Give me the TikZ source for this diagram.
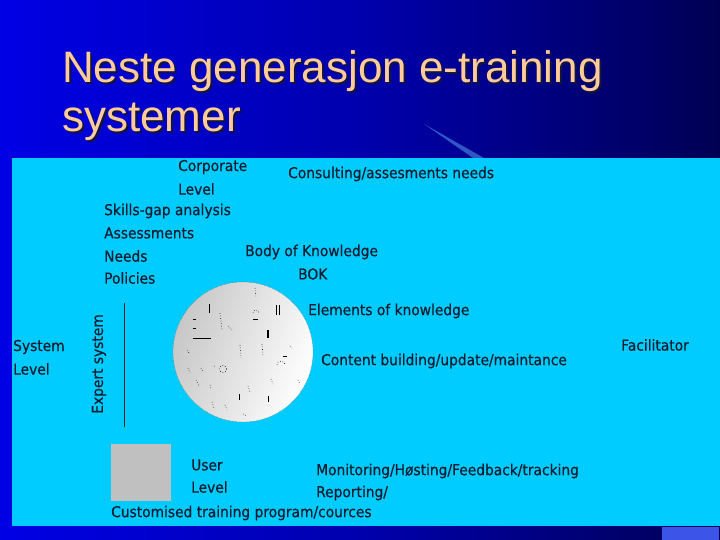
\documentclass[tikz,border=0pt]{standalone}
\usepackage{fontspec}
\newfontfamily\tfont{Liberation Sans}
\newfontfamily\cfont[FakeStretch=0.92,FakeBold=0.5]{DejaVu Sans}
\definecolor{panel}{RGB}{0,204,255}
\definecolor{titleor}{RGB}{255,204,153}
\definecolor{tshadow}{RGB}{20,20,60}
\definecolor{txt}{RGB}{16,28,48}
\definecolor{sq}{RGB}{192,192,192}
\definecolor{corner}{RGB}{60,84,232}
\newcommand{\shadowtext}[1]{\makebox[0pt][l]{\hspace{2pt}\raisebox{-2pt}{\color{tshadow}#1}}#1}
\pgfdeclarehorizontalshading{bgshade}{100bp}{rgb(0bp)=(0,0,0.98); rgb(25bp)=(0,0,0.9); rgb(50bp)=(0,0,0.68); rgb(70bp)=(0,0,0.4); rgb(88bp)=(0,0,0.12); rgb(100bp)=(0,0,0)}
\tikzset{
  lbl/.style={font=\cfont\fontsize{15}{18}\selectfont, text=txt, anchor=west, inner sep=0pt},
  ttl/.style={font=\tfont\fontsize{44}{50}\selectfont, text=titleor, anchor=base west, inner sep=0pt},
  tickline/.style={line width=0.6pt, draw=black},
  dotline/.style={line width=0.6pt, draw=black, dotted}
}
\begin{document}
\begin{tikzpicture}[x=1pt,y=-1pt]
\useasboundingbox (0,0) rectangle (720,540);
% background
\shade[shading=bgshade] (0,0) rectangle (720,540);
% streak
\fill[blue!40!cyan!60!white, opacity=0.45] (424,124) -- (473,158) -- (484,158) -- cycle;
% title with shadow
\node[ttl] (t1) at (62,83) {\shadowtext{Neste generasjon e-training}};
\node[ttl] (t2) at (62,132) {\shadowtext{systemer}};
% panel
\fill[panel] (12,158) rectangle (720,526);
\fill[corner] (662,527) rectangle (719,540);
% labels
\node[lbl] (corp) at (178,167) {Corporate};
\node[lbl] (corplev) at (178,189) {Level};
\node[lbl] (skills) at (104,211) {Skills-gap analysis};
\node[lbl] (assess) at (104,233) {Assessments};
\node[lbl] (needs) at (104,256) {Needs};
\node[lbl] (pol) at (104,278) {Policies};
\node[lbl] (cons) at (288,174) {Consulting/assesments needs};
\node[lbl] (body) at (245,252) {Body of Knowledge};
\node[lbl] (bok) at (298,274) {BOK};
\node[lbl] (elem) at (308,311) {Elements of knowledge};
\node[lbl] (cont) at (321,361) {Content building/update/maintance};
\node[lbl] (fac) at (621,345) {Facilitator};
\node[lbl] (sys) at (13,347) {System};
\node[lbl] (syslev) at (13,369) {Level};
\node[lbl, anchor=center, rotate=90] (expert) at (99,364) {Expert system};
\draw[line width=1pt, black!85] (124,303) -- (124,427);
% body of knowledge sphere
\shade[left color=black!22, right color=white, shading angle=70] (243,352) circle (70);
\draw[black!60, line width=0.4pt, densely dotted] (243,352) circle (70);
\draw[tickline] (209,304) -- (209,313);
\draw[tickline] (276,305) -- (276,315) (279,305) -- (279,315);
\draw[tickline] (193,338) -- (211,338);
\draw[tickline] (193,319) -- (196,319) (193,328) -- (196,328);
\draw[line width=1.4pt] (268,330) -- (268,338);
\draw[tickline] (283,356) -- (287,356);
\draw[tickline] (239,394) -- (239,400);
\draw[tickline] (268,396) -- (268,402);
\draw[tickline] (253,319) -- (258,319);
\draw[dotline] (223,369) circle (3.5);
\draw[dotline] (253,313) arc (180:360:3);
\draw[dotline] (277,365) arc (180:360:4);
\draw[dotline] (220,313) -- (222,330);
\draw[dotline] (228,326) -- (232,330);
\draw[dotline] (240,345) -- (241,358);
\draw[dotline] (262,344) -- (263,356);
\draw[dotline] (201,368) -- (203,372);
\draw[dotline] (187,350) -- (189,353);
\draw[dotline] (255,288) -- (256,297);
\draw[dotline] (290,346) -- (292,348);
\draw[dotline] (196,380) -- (199,386);
\draw[dotline] (210,385) -- (211,389);
\draw[dotline] (248,386) -- (250,392);
\draw[dotline] (271,379) -- (273,384);
\draw[dotline] (298,380) -- (300,384);
\draw[dotline] (212,402) -- (214,408);
\draw[dotline] (225,405) -- (227,410);
\draw[dotline] (243,414) -- (247,416);
\draw[dotline] (188,368) -- (190,373);
\draw[dotline] (214,366) -- (216,367);
% user level
\fill[sq] (111,444) rectangle (171,501);
\node[lbl] (user) at (191,465) {User};
\node[lbl] (userlev) at (191,487) {Level};
\node[lbl] (mon) at (316,471) {Monitoring/Høsting/Feedback/tracking};
\node[lbl] (rep) at (316,493) {Reporting/};
\node[lbl] (cust) at (111,513) {Customised training program/cources};
\end{tikzpicture}
\end{document}
